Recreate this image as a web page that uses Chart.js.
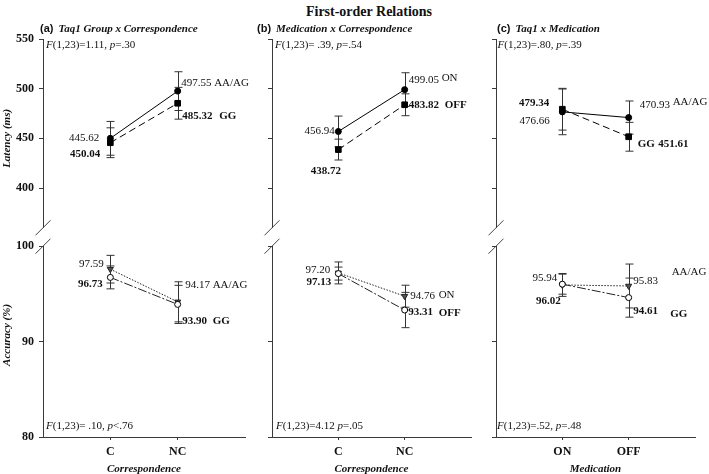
<!DOCTYPE html>
<html><head><meta charset="utf-8">
<script src="https://cdn.jsdelivr.net/npm/chart.js@4/dist/chart.umd.min.js"></script>
<style>
body{margin:0;background:#fff;width:709px;height:474px;position:relative;overflow:hidden}
canvas{position:absolute}
#title{position:absolute;left:269px;width:200px;top:4px;line-height:16px;text-align:center;font:bold 14px "Liberation Serif","Times New Roman",serif;color:#111}
</style></head><body>
<div id="title">First-order Relations</div>
<canvas id="aTop" width="250" height="240" style="left:0;top:0"></canvas>
<canvas id="aBot" width="250" height="240" style="left:0;top:234px"></canvas>
<canvas id="bTop" width="226" height="240" style="left:250px;top:0"></canvas>
<canvas id="bBot" width="226" height="240" style="left:250px;top:234px"></canvas>
<canvas id="cTop" width="233" height="240" style="left:476px;top:0"></canvas>
<canvas id="cBot" width="233" height="240" style="left:476px;top:234px"></canvas>
<script>
// ---------- data ----------
const categoriesA = ['C', 'NC'];
const categoriesB = ['C', 'NC'];
const categoriesC = ['ON', 'OFF'];
const latencyTicks = [400, 450, 500, 550];
const accuracyTicks = [80, 90, 100];

// (a) Taq1 group x correspondence
const aLatAAAG = [450.04, 497.55];
const aLatAAAGErr = [17, 19.5];
const aLatGG = [445.62, 485.32];
const aLatGGErr = [15, 16];
const aAccAAAG = [97.59, 94.17];
const aAccAAAGErr = [1.45, 2.1];
const aAccGG = [96.73, 93.90];
const aAccGGErr = [1.2, 2.0];

// (b) medication x correspondence
const bLatON = [456.94, 499.05];
const bLatONErr = [15.5, 17];
const bLatOFF = [438.72, 483.82];
const bLatOFFErr = [10.5, 11];
const bAccON = [97.20, 94.76];
const bAccONErr = [1.15, 1.15];
const bAccOFF = [97.13, 93.31];
const bAccOFFErr = [0.68, 1.85];

// (c) Taq1 x medication
const cLatAAAG = [476.66, 470.93];
const cLatAAAGErr = [23, 16.7];
const cLatGG = [479.34, 451.61];
const cLatGGErr = [21, 14.5];
const cAccAAAG = [95.94, 95.83];
const cAccAAAGErr = [1.2, 2.3];
const cAccGG = [96.02, 94.61];
const cAccGGErr = [1.05, 2.05];

// ---------- helpers ----------
const SERIF = '"Liberation Serif","Times New Roman",serif';
const SANS = '"Liberation Sans",Arial,sans-serif';
const INK = '#111';
const AXIS = '#3a3a3a';

function pts(vals) { return vals.map((v, i) => ({ x: i + 1, y: v })); }

const sSquare = { pointStyle: 'rect', pointRadius: 4, pointBackgroundColor: '#000', pointBorderColor: '#000', borderColor: '#000', borderWidth: 1, borderDash: [7, 4] };
const sDot = { pointStyle: 'circle', pointRadius: 3, pointBackgroundColor: '#000', pointBorderColor: '#000', borderColor: '#000', borderWidth: 1, borderDash: [] };
const sTri = { pointStyle: 'triangle', rotation: 180, pointRadius: 3.5, pointBackgroundColor: '#555', pointBorderColor: '#222', borderColor: '#222', borderWidth: 1, borderDash: [1.5, 1.5] };
const sOpen = { pointStyle: 'circle', pointRadius: 3, pointBackgroundColor: '#fff', pointBorderColor: '#000', borderColor: '#222', borderWidth: 1, borderDash: [9, 2, 2, 2] };

function ds(vals, errs, style) {
  return Object.assign({ data: pts(vals), errors: errs, fill: false, tension: 0, pointBorderWidth: 1 }, style);
}

function fontStr(s, size) {
  return (s.i ? 'italic ' : '') + (s.b ? 'bold ' : '') + (s.size || size) + 'px ' + (s.sans ? SANS : SERIF);
}
function drawSegs(ctx, segs, x, y, size, align) {
  const w = segs.map(s => { ctx.font = fontStr(s, size); return ctx.measureText(s.t).width + (s.gap || 0); });
  const total = w.reduce((a, b) => a + b, 0);
  let cx = align === 'right' ? x - total : align === 'center' ? x - total / 2 : x;
  ctx.textAlign = 'left';
  ctx.textBaseline = 'middle';
  segs.forEach((s, k) => { ctx.font = fontStr(s, size); ctx.fillText(s.t, cx, y); cx += w[k]; });
}

const annotPlugin = {
  id: 'annot',
  beforeDatasetsDraw(chart) {
    const ctx = chart.ctx, xs = chart.scales.x, ys = chart.scales.y;
    ctx.save();
    ctx.strokeStyle = '#333';
    ctx.lineWidth = 1;
    ctx.setLineDash([]);
    chart.data.datasets.forEach(d => {
      if (!d.errors) return;
      d.data.forEach((p, i) => {
        const e = d.errors[i];
        const x = Math.round(xs.getPixelForValue(p.x)) + 0.5;
        const y1 = ys.getPixelForValue(p.y + e), y2 = ys.getPixelForValue(p.y - e);
        ctx.beginPath();
        ctx.moveTo(x, y1); ctx.lineTo(x, y2);
        ctx.moveTo(x - 4, y1); ctx.lineTo(x + 4, y1);
        ctx.moveTo(x - 4, y2); ctx.lineTo(x + 4, y2);
        ctx.stroke();
      });
    });
    ctx.restore();
  },
  afterDraw(chart, args, o) {
    const ctx = chart.ctx, xs = chart.scales.x, ys = chart.scales.y, ca = chart.chartArea;
    ctx.save();
    ctx.fillStyle = INK;
    (o.labels || []).forEach(l => {
      drawSegs(ctx, [{ t: l.t, b: l.b }], xs.getPixelForValue(l.xi) + l.dx, ys.getPixelForValue(l.v), 11, l.align);
    });
    if (o.ptitle) {
      drawSegs(ctx, [{ t: o.ptitle.tag, b: 1, sans: 1, size: 11, gap: 5 }, { t: o.ptitle.text, b: 1, i: 1 }],
        ca.left + o.ptitle.dx, ca.top - 10, 11, 'left');
    }
    if (o.stat) {
      const y = o.stat.where === 'top' ? ca.top + 6.5 : ca.bottom - 10.5;
      drawSegs(ctx, o.stat.segs, ca.left + o.stat.dx, y, 11, 'left');
    }
    if (o.ytitle) {
      ctx.translate(o.ytitle.x, ys.getPixelForValue(o.ytitle.v));
      ctx.rotate(-Math.PI / 2);
      drawSegs(ctx, [{ t: o.ytitle.text, b: 1, i: 1 }], 0, 0, 11, 'center');
      ctx.setTransform(1, 0, 0, 1, 0, 0);
    }
    if (o.brk) {
      const yb = o.brk === 'top' ? ca.bottom : ca.top;
      const x = ca.left;
      ctx.strokeStyle = '#444';
      ctx.lineWidth = 1;
      ctx.beginPath();
      ctx.moveTo(x - 7.5, yb + 7.5);
      ctx.lineTo(x + 7.5, yb - 7.5);
      ctx.stroke();
    }
    ctx.restore();
  }
};

function F(stat, pPart) {
  return [{ t: 'F', i: 1 }, { t: '(1,23)=' + stat }, { t: 'p', i: 1 }, { t: pPart }];
}

function yScale(min, max, tickVals, width, showLabels) {
  return {
    type: 'linear', min: min, max: max, position: 'left',
    afterFit: s => { s.width = width; },
    afterBuildTicks: s => { s.ticks = tickVals.map(v => ({ value: v })); },
    border: { display: true, color: AXIS, width: 1 },
    grid: { drawOnChartArea: false, drawTicks: true, tickLength: 4, color: AXIS, tickColor: AXIS },
    ticks: {
      callback: v => showLabels ? String(v) : '',
      font: { family: SERIF, size: 12, weight: 'bold' }, color: INK, padding: 5
    }
  };
}

function makeTop(id, yW, padR, datasets, annot, showLabels) {
  return new Chart(document.getElementById(id), {
    type: 'line',
    data: { datasets: datasets },
    options: {
      responsive: false, animation: false, devicePixelRatio: 1,
      layout: { padding: { top: 39, bottom: 10, left: 0, right: padR } },
      plugins: { legend: { display: false }, tooltip: { enabled: false }, annot: annot },
      scales: {
        x: { type: 'linear', min: 0, max: 3, display: false },
        y: yScale(360, 550, latencyTicks, yW, showLabels)
      }
    },
    plugins: [annotPlugin]
  });
}

function makeBot(id, yW, padR, cats, xTitle, datasets, annot, showLabels) {
  return new Chart(document.getElementById(id), {
    type: 'line',
    data: { datasets: datasets },
    options: {
      responsive: false, animation: false, devicePixelRatio: 1,
      layout: { padding: { top: 11, bottom: 0, left: 0, right: padR } },
      plugins: { legend: { display: false }, tooltip: { enabled: false }, annot: annot },
      scales: {
        x: {
          type: 'linear', min: 0, max: 3, position: 'bottom',
          afterFit: s => { s.height = 37; },
          afterBuildTicks: s => { s.ticks = cats.map((c, i) => ({ value: i + 1 })); },
          border: { display: true, color: AXIS, width: 1 },
          grid: { drawOnChartArea: false, drawTicks: true, tickLength: 3, color: AXIS, tickColor: AXIS },
          ticks: {
            callback: v => cats[Math.round(v) - 1], maxRotation: 0, autoSkip: false,
            font: { family: SERIF, size: 12, weight: 'bold' }, color: INK, padding: 5
          },
          title: { display: true, text: xTitle, font: { family: SERIF, size: 11, weight: 'bold', style: 'italic' }, color: INK, padding: { top: 0, bottom: -2 } }
        },
        y: yScale(80, 100, accuracyTicks, yW, showLabels)
      }
    },
    plugins: [annotPlugin]
  });
}

// ---------- panel (a) ----------
makeTop('aTop', 43, 4, [
  ds(aLatGG, aLatGGErr, sSquare),
  ds(aLatAAAG, aLatAAAGErr, sDot)
], {
  ptitle: { tag: '(a)', text: 'Taq1 Group x Correspondence', dx: -3 },
  stat: { segs: F('1.11, ', '=.30'), dx: 3, where: 'top' },
  ytitle: { text: 'Latency (ms)', v: 450, x: 7 },
  brk: 'top',
  labels: [
    { t: '445.62', xi: 1, v: 450.5, dx: -11, align: 'right' },
    { t: '450.04', xi: 1, v: 434.6, dx: -10, align: 'right', b: 1 },
    { t: '497.55 AA/AG', xi: 2, v: 505.2, dx: 3.5, align: 'left' },
    { t: '485.32', xi: 2, v: 472.7, dx: 4.5, align: 'left', b: 1 },
    { t: 'GG', xi: 2, v: 472.7, dx: 41.5, align: 'left', b: 1 }
  ]
}, true);

makeBot('aBot', 43, 4, categoriesA, 'Correspondence', [
  ds(aAccGG, aAccGGErr, sOpen),
  ds(aAccAAAG, aAccAAAGErr, sTri)
], {
  stat: { segs: F(' .10, ', '<.76'), dx: 3, where: 'bottom' },
  ytitle: { text: 'Accuracy (%)', v: 90.7, x: 7 },
  brk: 'bottom',
  labels: [
    { t: '97.59', xi: 1, v: 98.09, dx: -6.5, align: 'right' },
    { t: '96.73', xi: 1, v: 96.0, dx: -7.5, align: 'right', b: 1 },
    { t: '94.17 AA/AG', xi: 2, v: 95.94, dx: 7.5, align: 'left' },
    { t: '93.90', xi: 2, v: 92.1, dx: 4.5, align: 'left', b: 1 },
    { t: 'GG', xi: 2, v: 92.1, dx: 35, align: 'left', b: 1 }
  ]
}, true);

// ---------- panel (b) ----------
makeTop('bTop', 22, 4, [
  ds(bLatOFF, bLatOFFErr, sSquare),
  ds(bLatON, bLatONErr, sDot)
], {
  ptitle: { tag: '(b)', text: 'Medication x Correspondence', dx: -15 },
  stat: { segs: F(' .39, ', '=.54'), dx: 3, where: 'top' },
  brk: 'top',
  labels: [
    { t: '456.94', xi: 1, v: 457.8, dx: -3.5, align: 'right' },
    { t: '438.72', xi: 1, v: 417, dx: -12.5, align: 'center', b: 1 },
    { t: '499.05', xi: 2, v: 508.2, dx: 4, align: 'left' },
    { t: 'ON', xi: 2, v: 511, dx: 37, align: 'left' },
    { t: '483.82', xi: 2, v: 483.4, dx: 4, align: 'left', b: 1 },
    { t: 'OFF', xi: 2, v: 483.4, dx: 40, align: 'left', b: 1 }
  ]
}, false);

makeBot('bBot', 22, 4, categoriesB, 'Correspondence', [
  ds(bAccOFF, bAccOFFErr, sOpen),
  ds(bAccON, bAccONErr, sTri)
], {
  stat: { segs: F('4.12 ', '=.05'), dx: 4, where: 'bottom' },
  brk: 'bottom',
  labels: [
    { t: '97.20', xi: 1, v: 97.47, dx: -8, align: 'right' },
    { t: '97.13', xi: 1, v: 96.18, dx: -7, align: 'right', b: 1 },
    { t: '94.76', xi: 2, v: 94.79, dx: 5.5, align: 'left' },
    { t: 'ON', xi: 2, v: 94.85, dx: 34, align: 'left' },
    { t: '93.31', xi: 2, v: 93.05, dx: 3.5, align: 'left', b: 1 },
    { t: 'OFF', xi: 2, v: 93.0, dx: 34, align: 'left', b: 1 }
  ]
}, false);

// ---------- panel (c) ----------
makeTop('cTop', 20, 14, [
  ds(cLatGG, cLatGGErr, sSquare),
  ds(cLatAAAG, cLatAAAGErr, sDot)
], {
  ptitle: { tag: '(c)', text: 'Taq1 x Medication', dx: 1 },
  stat: { segs: F('.80, ', '=.39'), dx: 1.5, where: 'top' },
  brk: 'top',
  labels: [
    { t: '479.34', xi: 1, v: 485, dx: -13, align: 'right', b: 1 },
    { t: '476.66', xi: 1, v: 467.4, dx: -12.5, align: 'right' },
    { t: '470.93', xi: 2, v: 483.4, dx: 11, align: 'left' },
    { t: 'AA/AG', xi: 2, v: 486.3, dx: 44, align: 'left' },
    { t: 'GG', xi: 2, v: 443.9, dx: 9, align: 'left', b: 1 },
    { t: '451.61', xi: 2, v: 443.9, dx: 29.5, align: 'left', b: 1 }
  ]
}, false);

makeBot('cBot', 20, 14, categoriesC, 'Medication', [
  ds(cAccGG, cAccGGErr, sOpen),
  ds(cAccAAAG, cAccAAAGErr, sTri)
], {
  stat: { segs: F('.52, ', '=.48'), dx: 1, where: 'bottom' },
  brk: 'bottom',
  labels: [
    { t: '95.94', xi: 1, v: 96.7, dx: -5, align: 'right' },
    { t: '96.02', xi: 1, v: 94.2, dx: -1.5, align: 'right', b: 1 },
    { t: '95.83', xi: 2, v: 96.35, dx: 4.5, align: 'left' },
    { t: '94.61', xi: 2, v: 93.23, dx: 4.5, align: 'left', b: 1 },
    { t: 'AA/AG', xi: 2, v: 97.3, dx: 43, align: 'left' },
    { t: 'GG', xi: 2, v: 92.9, dx: 41.5, align: 'left', b: 1 }
  ]
}, false);
</script>
</body></html>
